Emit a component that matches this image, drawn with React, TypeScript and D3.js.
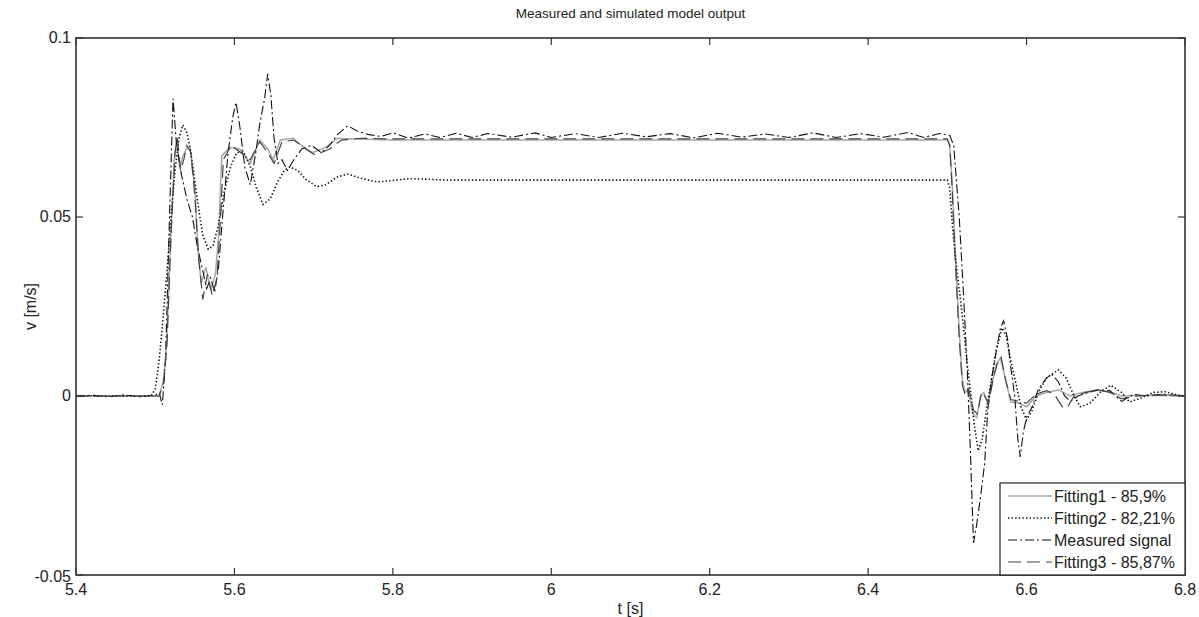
import { useEffect, useRef } from 'react';
import * as d3 from 'd3';

type Pt = [number, number];

// values, [t (s), v (m/s)]
const MEASURED: Pt[] = [
  [5.4, 0], [5.42, 0.0002], [5.44, -0.0002], [5.46, 0.0003], [5.48, -0.0002], [5.5, 0.0002],
  [5.505, 0.001], [5.509, -0.0025], [5.513, 0.01], [5.518, 0.05], [5.5225, 0.083], [5.527, 0.07],
  [5.533, 0.062], [5.54, 0.055], [5.547, 0.05], [5.553, 0.042], [5.56, 0.035], [5.565, 0.03],
  [5.57, 0.033], [5.575, 0.029], [5.58, 0.036], [5.585, 0.05], [5.592, 0.068], [5.598, 0.078],
  [5.602, 0.082], [5.607, 0.075], [5.613, 0.064], [5.62, 0.059], [5.627, 0.068], [5.632, 0.076],
  [5.638, 0.083], [5.642, 0.09], [5.646, 0.084], [5.65, 0.072], [5.655, 0.065], [5.66, 0.066],
  [5.667, 0.063], [5.675, 0.066], [5.685, 0.069], [5.697, 0.07], [5.71, 0.068], [5.72, 0.07],
  [5.73, 0.073], [5.743, 0.0755], [5.755, 0.074], [5.77, 0.073], [5.785, 0.0725], [5.8, 0.0735],
  [5.82, 0.072], [5.84, 0.0732], [5.86, 0.0722], [5.88, 0.0734], [5.9, 0.0722], [5.92, 0.0733],
  [5.95, 0.0723], [5.98, 0.0735], [6.0, 0.0722], [6.03, 0.0733], [6.06, 0.0722], [6.09, 0.0734],
  [6.12, 0.0724], [6.15, 0.0733], [6.18, 0.0721], [6.21, 0.0734], [6.24, 0.0723], [6.27, 0.0732],
  [6.3, 0.0722], [6.33, 0.0735], [6.36, 0.0722], [6.39, 0.0733], [6.42, 0.0723], [6.45, 0.0736],
  [6.47, 0.0722], [6.49, 0.0733], [6.503, 0.0728], [6.508, 0.07], [6.515, 0.05], [6.52, 0.03],
  [6.525, 0.008], [6.529, -0.015], [6.533, -0.041], [6.537, -0.036], [6.542, -0.028],
  [6.547, -0.019], [6.551, -0.004], [6.556, 0.005], [6.562, 0.013], [6.567, 0.019], [6.571, 0.021],
  [6.576, 0.016], [6.58, 0.008], [6.585, 0.0], [6.589, -0.012], [6.592, -0.017], [6.596, -0.01],
  [6.6, -0.006], [6.607, -0.003], [6.615, 0.002], [6.625, 0.005], [6.632, 0.006], [6.64, 0.004],
  [6.648, 0.0], [6.655, -0.0015], [6.665, 0.0], [6.678, 0.001], [6.69, 0.0017], [6.705, 0.0015],
  [6.72, -0.0015], [6.735, 0.0005], [6.75, 0.0], [6.77, 0.0005], [6.8, 0.0],
];

const FITTING1: Pt[] = [
  [5.4, 0], [5.505, 0], [5.51, 0.004], [5.514, 0.013], [5.519, 0.041], [5.524, 0.066],
  [5.527, 0.0715], [5.531, 0.064], [5.535, 0.067], [5.539, 0.069], [5.544, 0.0695], [5.55, 0.058],
  [5.554, 0.041], [5.558, 0.0315], [5.564, 0.036], [5.57, 0.0296], [5.576, 0.034], [5.58, 0.045],
  [5.584, 0.067], [5.594, 0.0695], [5.607, 0.069], [5.62, 0.065], [5.632, 0.0715], [5.642, 0.069],
  [5.649, 0.066], [5.658, 0.0715], [5.674, 0.072], [5.687, 0.0695], [5.699, 0.068], [5.716, 0.0695],
  [5.73, 0.072], [5.75, 0.0718], [5.8, 0.0715], [6.0, 0.0715], [6.5, 0.0715], [6.503, 0.07],
  [6.506, 0.06], [6.51, 0.04], [6.515, 0.018], [6.519, 0.0045], [6.522, 0.001], [6.526, 0.002],
  [6.532, -0.005], [6.537, -0.006], [6.542, 0.0], [6.546, 0.001], [6.551, -0.002], [6.557, 0.004],
  [6.562, 0.009], [6.567, 0.0106], [6.572, 0.006], [6.58, -0.0017], [6.59, -0.002], [6.6, -0.003],
  [6.612, 0.0], [6.625, 0.001], [6.64, 0.0017], [6.655, 0.0], [6.67, 0.001], [6.69, 0.0017],
  [6.705, 0.0012], [6.72, 0.0], [6.76, 0.0002], [6.8, 0.0],
];

const FITTING2: Pt[] = [
  [5.4, 0], [5.495, 0], [5.5, 0.002], [5.505, 0.01], [5.51, 0.022], [5.515, 0.035], [5.52, 0.05],
  [5.525, 0.063], [5.53, 0.072], [5.535, 0.0757], [5.54, 0.0735], [5.545, 0.068], [5.55, 0.06],
  [5.555, 0.052], [5.56, 0.045], [5.567, 0.041], [5.573, 0.042], [5.58, 0.048], [5.587, 0.057],
  [5.595, 0.064], [5.603, 0.068], [5.612, 0.068], [5.62, 0.064], [5.628, 0.058], [5.636, 0.0535],
  [5.645, 0.055], [5.655, 0.06], [5.663, 0.063], [5.67, 0.064], [5.68, 0.063], [5.69, 0.0605],
  [5.704, 0.0585], [5.715, 0.059], [5.73, 0.0612], [5.743, 0.062], [5.76, 0.0608], [5.78, 0.0598],
  [5.8, 0.0602], [5.82, 0.0607], [5.84, 0.0606], [5.87, 0.0603], [6.0, 0.0603], [6.5, 0.0603],
  [6.503, 0.058], [6.507, 0.046], [6.512, 0.035], [6.516, 0.028], [6.521, 0.018], [6.525, 0.009],
  [6.53, 0.0], [6.534, -0.008], [6.539, -0.0153], [6.544, -0.012], [6.55, -0.003], [6.556, 0.005],
  [6.562, 0.013], [6.569, 0.019], [6.574, 0.017], [6.58, 0.01], [6.587, 0.003], [6.593, -0.003],
  [6.6, -0.0067], [6.607, -0.004], [6.615, 0.001], [6.625, 0.005], [6.64, 0.0073], [6.65, 0.005],
  [6.66, 0.0], [6.668, -0.003], [6.68, -0.002], [6.693, 0.001], [6.706, 0.003], [6.72, 0.001],
  [6.73, -0.0017], [6.745, -0.0005], [6.76, 0.001], [6.775, 0.0012], [6.79, 0.0003], [6.8, 0.0],
];

const FITTING3: Pt[] = [
  [5.4, 0], [5.505, 0], [5.511, 0.004], [5.515, 0.015], [5.52, 0.045], [5.525, 0.068],
  [5.528, 0.072], [5.532, 0.063], [5.536, 0.066], [5.54, 0.07], [5.545, 0.068], [5.55, 0.056],
  [5.555, 0.038], [5.56, 0.027], [5.566, 0.034], [5.572, 0.028], [5.578, 0.033], [5.582, 0.048],
  [5.586, 0.066], [5.596, 0.07], [5.608, 0.068], [5.62, 0.066], [5.632, 0.071], [5.642, 0.068],
  [5.65, 0.065], [5.66, 0.071], [5.675, 0.0715], [5.69, 0.069], [5.702, 0.0673], [5.72, 0.069],
  [5.735, 0.0715], [5.76, 0.072], [5.8, 0.0718], [6.5, 0.0718], [6.503, 0.07], [6.506, 0.058],
  [6.51, 0.038], [6.515, 0.016], [6.519, 0.003], [6.523, 0.0], [6.527, 0.002], [6.533, -0.004],
  [6.538, -0.005], [6.543, 0.001], [6.547, 0.0], [6.552, -0.002], [6.558, 0.005], [6.563, 0.009],
  [6.568, 0.0108], [6.573, 0.005], [6.58, -0.001], [6.59, -0.0015], [6.6, -0.002], [6.612, 0.0005],
  [6.625, 0.0015], [6.635, 0.0005], [6.646, -0.0033], [6.652, -0.003], [6.66, 0.0], [6.675, 0.001],
  [6.69, 0.0017], [6.705, 0.001], [6.72, -0.0008], [6.74, 0.0], [6.77, 0.0003], [6.8, 0.0],
];

const X_TICKS = [5.4, 5.6, 5.8, 6.0, 6.2, 6.4, 6.6, 6.8];
const Y_TICKS = [-0.05, 0, 0.05, 0.1];

const SERIES = [
  { name: 'Fitting1 - 85,9%', data: FITTING1, color: '#a8a8a8', width: 1.5, dash: null },
  { name: 'Fitting2 - 82,21%', data: FITTING2, color: '#111', width: 1.6, dash: '1.4 2.2' },
  { name: 'Measured signal', data: MEASURED, color: '#111', width: 1.1, dash: '9 3 2 3' },
  { name: 'Fitting3 - 85,87%', data: FITTING3, color: '#444', width: 1.2, dash: '13 6' },
];

const FONT = '"Liberation Sans", Arial, sans-serif';

export default function App() {
  const svgRef = useRef<SVGSVGElement>(null);

  useEffect(() => {
    const svg = d3.select(svgRef.current);
    if (!svg.node()) return;
    svg.selectAll('*').remove();

    const width = 1199;
    const height = 617;
    const margin = { top: 38, right: 14, bottom: 42, left: 76 };
    const x = d3.scaleLinear().domain([5.4, 6.8]).range([margin.left, width - margin.right]);
    const y = d3.scaleLinear().domain([-0.05, 0.1]).range([height - margin.bottom, margin.top]);
    const [x0, x1] = x.range();
    const [y0, y1] = y.range();

    svg.append('rect').attr('width', width).attr('height', height).attr('fill', '#fff');

    svg
      .append('defs')
      .append('clipPath')
      .attr('id', 'plot-clip')
      .append('rect')
      .attr('x', x0)
      .attr('y', y1)
      .attr('width', x1 - x0)
      .attr('height', y0 - y1);

    const line = d3
      .line<Pt>()
      .x((d) => x(d[0]))
      .y((d) => y(d[1]));

    const plot = svg.append('g').attr('clip-path', 'url(#plot-clip)');
    SERIES.forEach((s) => {
      plot
        .append('path')
        .datum(s.data)
        .attr('fill', 'none')
        .attr('stroke', s.color)
        .attr('stroke-width', s.width)
        .attr('stroke-dasharray', s.dash)
        .attr('d', line);
    });

    // ticks inside the box, on all four sides
    const axisColor = '#333';
    const tickLen = 7;
    const axes = svg.append('g').attr('stroke', axisColor).attr('stroke-width', 1.2);
    X_TICKS.forEach((t) => {
      axes.append('line').attr('x1', x(t)).attr('x2', x(t)).attr('y1', y0).attr('y2', y0 - tickLen);
      axes.append('line').attr('x1', x(t)).attr('x2', x(t)).attr('y1', y1).attr('y2', y1 + tickLen);
    });
    Y_TICKS.forEach((v) => {
      axes.append('line').attr('x1', x0).attr('x2', x0 + tickLen).attr('y1', y(v)).attr('y2', y(v));
      axes.append('line').attr('x1', x1).attr('x2', x1 - tickLen).attr('y1', y(v)).attr('y2', y(v));
    });
    svg
      .append('rect')
      .attr('x', x0)
      .attr('y', y1)
      .attr('width', x1 - x0)
      .attr('height', y0 - y1)
      .attr('fill', 'none')
      .attr('stroke', axisColor)
      .attr('stroke-width', 1.6);

    const labels = svg.append('g').attr('font-family', FONT).attr('fill', '#222');
    X_TICKS.forEach((t) => {
      labels
        .append('text')
        .attr('x', x(t))
        .attr('y', y0 + 20)
        .attr('text-anchor', 'middle')
        .attr('font-size', 16)
        .text(String(t));
    });
    Y_TICKS.forEach((v) => {
      labels
        .append('text')
        .attr('x', x0 - 5)
        .attr('y', y(v) + (v === -0.05 ? 7 : 5))
        .attr('text-anchor', 'end')
        .attr('font-size', 16)
        .text(String(v));
    });

    labels
      .append('text')
      .attr('x', (x0 + x1) / 2)
      .attr('y', 614)
      .attr('text-anchor', 'middle')
      .attr('font-size', 16)
      .text('t [s]');
    labels
      .append('text')
      .attr('transform', 'rotate(-90)')
      .attr('x', -(y0 + y1) / 2)
      .attr('y', 36)
      .attr('text-anchor', 'middle')
      .attr('font-size', 16)
      .text('v [m/s]');
    labels
      .append('text')
      .attr('x', (x0 + x1) / 2)
      .attr('y', 18)
      .attr('text-anchor', 'middle')
      .attr('font-size', 13.5)
      .text('Measured and simulated model output');

    // legend, lower right
    const lg = svg.append('g').attr('font-family', FONT);
    const lgLeft = 1000;
    const lgTop = 483;
    lg.append('rect')
      .attr('x', lgLeft)
      .attr('y', lgTop)
      .attr('width', x1 - lgLeft)
      .attr('height', y0 - lgTop)
      .attr('fill', '#fff')
      .attr('stroke', '#222')
      .attr('stroke-width', 1.2);
    SERIES.forEach((s, i) => {
      const ly = lgTop + 13 + i * 22;
      lg.append('line')
        .attr('x1', lgLeft + 8)
        .attr('x2', lgLeft + 52)
        .attr('y1', ly)
        .attr('y2', ly)
        .attr('stroke', s.color)
        .attr('stroke-width', s.width)
        .attr('stroke-dasharray', s.dash);
      lg.append('text')
        .attr('x', lgLeft + 54)
        .attr('y', ly + 6)
        .attr('font-size', 16)
        .attr('fill', '#222')
        .text(s.name);
    });
  }, []);

  return (
    <svg
      ref={svgRef}
      width={1199}
      height={617}
      style={{ position: 'absolute', left: 0, top: 0, display: 'block' }}
    />
  );
}
